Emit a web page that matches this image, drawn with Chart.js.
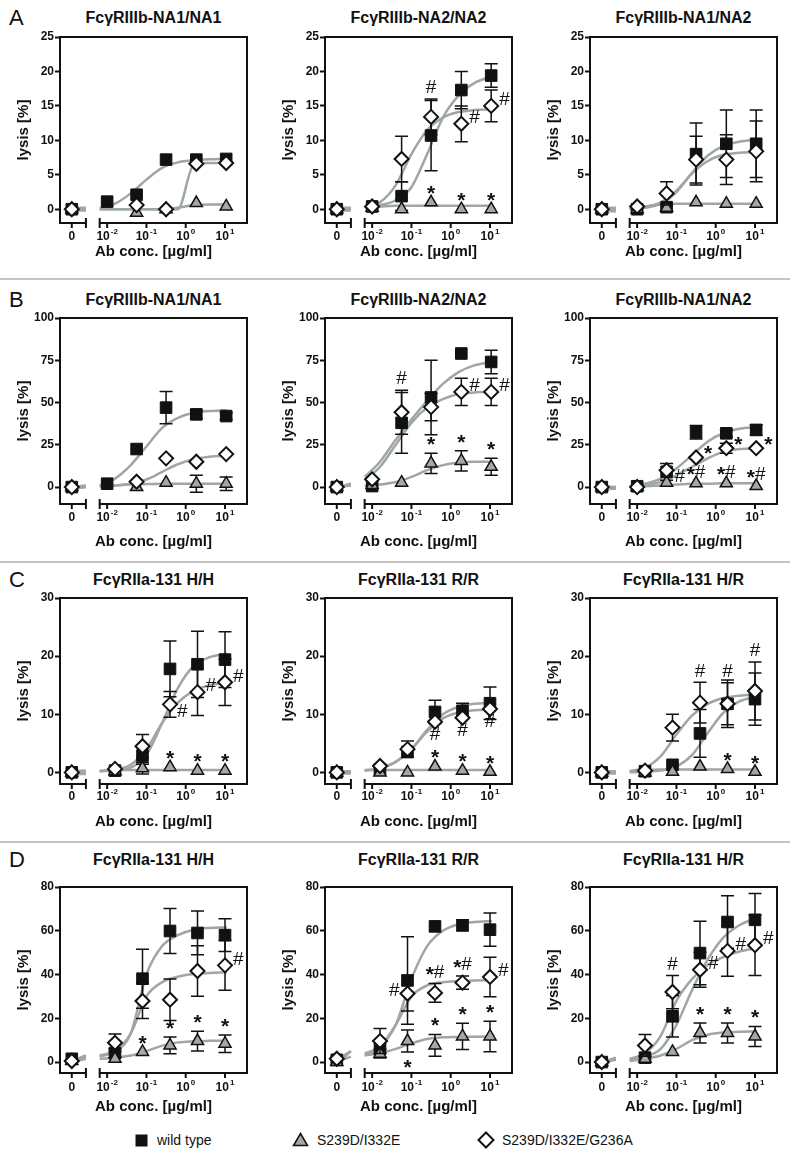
<!DOCTYPE html>
<html>
<head>
<meta charset="utf-8">
<title>lysis</title>
<script src="https://cdn.jsdelivr.net/npm/chart.js@4.4.1/dist/chart.umd.min.js"></script>
<style>
  html, body { margin: 0; padding: 0; background: #fff; }
  body { position: relative; width: 790px; height: 1160px; overflow: hidden; font-family: "Liberation Sans", Arial, sans-serif; color: #111; }
  canvas { position: absolute; }
  .ttl { position: absolute; font-weight: bold; font-size: 16px; white-space: nowrap; transform: translate(-50%, -50%); }
  .letter { position: absolute; left: 9px; font-size: 22px; line-height: 22px; transform: translateY(-50%); }
  .sep { position: absolute; left: 0; width: 790px; height: 2px; background: #c4c4c4; }
  .lg { position: absolute; top: 1131px; font-size: 14px; line-height: 18px; white-space: nowrap; }
  .sym { position: absolute; }
</style>
</head>
<body>

<svg class="sym" style="left:135px;top:1134px" width="13" height="13"><rect x="0.5" y="0.5" width="12" height="12" fill="#111"/></svg>
<span class="lg" style="left:157px">wild type</span>
<svg class="sym" style="left:292px;top:1132px" width="17" height="15"><polygon points="8.5,1.5 15.5,13.5 1.5,13.5" fill="#a4a9a6" stroke="#111" stroke-width="1.5"/></svg>
<span class="lg" style="left:317px">S239D/I332E</span>
<svg class="sym" style="left:477px;top:1131px" width="18" height="18"><polygon points="9,1.5 16.5,9 9,16.5 1.5,9" fill="#fff" stroke="#111" stroke-width="2"/></svg>
<span class="lg" style="left:502px">S239D/I332E/G236A</span>

<script>
// x axis is log10(conc); the "0" dose sits left of the axis break
const ZERO_X = -2.9;
const BREAK_X = [-2.54, -2.19];
const DOSES_AB = [-2.0, -1.25, -0.5, 0.27, 1.03];
const DOSES_CD = [-1.8, -1.1, -0.4, 0.3, 1.0];
const X_TICKS = [-2.9, -2, -1, 0, 1];
const X_TICK_BASE = ["0", "10", "10", "10", "10"];
const X_TICK_EXP = ["", "-2", "-1", "0", "1"];
// fitted curves are read at these x (2 points left of the break, 9 right of it)
const CURVE_X = [-2.9, -2.54, -2.19, -1.8, -1.4, -1.0, -0.6, -0.2, 0.2, 0.6, 1.05];

const SERIES = ["wild type", "S239D/I332E", "S239D/I332E/G236A"];
const ROW_LETTERS = ["A", "B", "C", "D"];
const TITLES = [
  ["FcγRIIIb-NA1/NA1", "FcγRIIIb-NA2/NA2", "FcγRIIIb-NA1/NA2"],
  ["FcγRIIIb-NA1/NA1", "FcγRIIIb-NA2/NA2", "FcγRIIIb-NA1/NA2"],
  ["FcγRIIa-131 H/H", "FcγRIIa-131 R/R", "FcγRIIa-131 H/R"],
  ["FcγRIIa-131 H/H", "FcγRIIa-131 R/R", "FcγRIIa-131 H/R"],
];
const Y_MIN = [-2, -10, -2, -5];
const Y_MAX = [25, 100, 30, 80];
const Y_TICKS = [[0, 5, 10, 15, 20, 25], [0, 25, 50, 75, 100], [0, 10, 20, 30], [0, 20, 40, 60, 80]];
const X_TITLE = "Ab conc. [µg/ml]";
const Y_TITLE = "lysis [%]";

// values per panel: rows = wild type, S239D/I332E, S239D/I332E/G236A; cols = 0, then 5 doses
const A1_VAL = [[0, 1.1, 2.1, 7.2, 7.2, 7.3], [0, null, -0.5, 0, 0.9, 0.4], [0, null, 0.6, 0, 6.6, 6.7]];
const A1_SD = [[0, 0, 0, 0, 0, 0], [0, 0, 0, 0, 0, 0], [0, 0, 0, 0, 0, 0]];
const A1_FIT = [
  [0, 0, 0.15, 0.8, 2.3, 4.3, 6.0, 6.8, 7.1, 7.25, 7.3],
  [0.2, 0.2, 0, 0, 0, 0, 0, 0.2, 0.6, 0.7, 0.7],
  [-0.2, -0.2, 0, 0, 0, 0, 0, 0, 6.4, 6.7, 6.8],
];
const A1_SIG = [];

const A2_VAL = [[0, 0.4, 1.9, 10.7, 17.3, 19.4], [0, 0.2, 0, 1.0, 0, 0], [0, 0.4, 7.3, 13.4, 12.4, 15.0]];
const A2_SD = [[0, 0, 2.1, 5.1, 2.7, 1.7], [0, 0, 0, 0, 0, 0], [0, 0, 3.3, 2.6, 2.6, 2.3]];
const A2_FIT = [
  [0.2, 0.2, 0.3, 0.6, 1.3, 3.2, 8, 13.3, 16.5, 18.3, 19.3],
  [0, 0, 0.3, 0.4, 0.5, 0.5, 0.5, 0.5, 0.5, 0.5, 0.5],
  [-0.2, -0.2, 0.3, 1.0, 3.5, 8, 11.5, 13.3, 14.1, 14.4, 14.5],
];
const A2_SIG = [[1, 3, "*", "above"], [1, 4, "*", "above"], [1, 5, "*", "above"], [2, 3, "#", "above"], [2, 4, "#", "right"], [2, 5, "#", "right"]];

const A3_VAL = [[0, 0, 0.3, 8.0, 9.5, 9.5], [0, 0, 0.2, 1.0, 0.8, 0.8], [0, 0.4, 2.3, 7.2, 7.2, 8.4]];
const A3_SD = [[0, 0, 0, 4.5, 4.9, 4.9], [0, 0, 0, 0, 0, 0], [0, 0, 1.7, 3.4, 3.6, 4.4]];
const A3_FIT = [
  [0.2, 0.2, 0, 0.2, 0.8, 2.5, 5.3, 7.8, 9.2, 9.8, 10.1],
  [0, 0, 0, 0.4, 0.7, 0.8, 0.8, 0.8, 0.8, 0.8, 0.8],
  [-0.3, -0.3, 0, 0.3, 1.0, 2.7, 5.2, 7.0, 7.9, 8.2, 8.3],
];
const A3_SIG = [];

const B1_VAL = [[0, 2.0, 22.5, 47, 43, 42], [0, null, 0, 2.6, 2.0, 2.0], [0, null, 3.2, 17, 15, 19.5]];
const B1_SD = [[0, 0, 0, 9.5, 2.5, 2], [0, 0, 0, 0, 5, 4], [0, 0, 0, 0, 0, 0]];
const B1_FIT = [
  [0, 1, 1, 5, 13, 24, 35, 41, 44, 45, 45.5],
  [0, 0, 0.5, 1, 1.5, 1.8, 2, 2, 2, 2, 2],
  [-1, 0, 0.5, 1, 2, 4.5, 9, 13.5, 16.5, 18, 18.5],
];
const B1_SIG = [];

const B2_VAL = [[0, 0.6, 38, 53, 79, 74], [0, 1.2, 2.6, 14, 15.5, 12], [0, 4.6, 44.3, 47.3, 56.3, 56.3]];
const B2_SD = [[0, 0, 18, 22, 0, 7], [0, 0, 0, 6, 6, 5], [0, 0, 13, 8, 8, 8]];
const B2_FIT = [
  [0, 2, 6, 15, 28, 40, 51, 61, 68, 72, 74],
  [0, 1, 0.5, 1.5, 3, 6, 10, 13, 14.5, 15, 15],
  [-1, 2, 4, 12, 25, 38, 47, 52, 55, 56, 56.5],
];
const B2_SIG = [[2, 2, "#", "above"], [1, 3, "*", "above"], [1, 4, "*", "above"], [1, 5, "*", "above"], [2, 4, "#", "right"], [2, 5, "#", "right"]];

const B3_VAL = [[0, 0.5, 9, 32.4, 31.8, 33.8], [0, 0, 2.6, 2.2, 2.2, 0.6], [0, 0, 10, 17.5, 23, 23]];
const B3_SD = [[0, 0, 5, 4, 2, 3], [0, 0, 0, 0, 0, 0], [0, 0, 0, 0, 3, 0]];
const B3_FIT = [
  [0, 0, 0.5, 2, 5, 11, 19, 27, 32, 34.5, 35.5],
  [0, 0, 0.2, 0.5, 1, 1.5, 2, 2, 2.2, 2.2, 2.2],
  [-1, -1, 0.3, 1, 3, 7, 12, 17, 21, 22.5, 23],
];
const B3_SIG = [[2, 3, "*", "right"], [2, 4, "*", "right"], [2, 5, "*", "right"], [1, 2, "#", "right"], [1, 3, "*#", "above"], [1, 4, "*#", "above"], [1, 5, "*#", "above"]];

const C1_VAL = [[0, 0.3, 2.9, 17.8, 18.6, 19.4], [0, 0.2, 0.7, 0.9, 0.3, 0.3], [0, 0.6, 4.5, 11.7, 13.8, 15.5]];
const C1_SD = [[0, 0, 1.5, 4.8, 5.7, 4.8], [0, 0, 1, 0, 0, 0], [0, 0, 2, 2.2, 4, 4]];
const C1_FIT = [
  [0.3, 0.3, 0.2, 0.3, 0.8, 3, 8.5, 14.5, 18.3, 19.8, 20.4],
  [0, 0, 0.3, 0.4, 0.4, 0.4, 0.4, 0.4, 0.4, 0.4, 0.4],
  [-0.3, -0.3, 0.2, 0.5, 1.3, 4, 8.5, 12, 14, 15, 15.3],
];
const C1_SIG = [[1, 3, "*", "above"], [1, 4, "*", "above"], [1, 5, "*", "above"], [2, 3, "#", "lowright"], [2, 4, "#", "right"], [2, 5, "#", "right"]];

const C2_VAL = [[0, 0.5, 3.5, 10.4, 10.6, 11.9], [0, 0, 0, 1.0, 0.3, 0.1], [0, 1.1, 4.0, 8.7, 9.4, 10.9]];
const C2_SD = [[0, 0, 0, 2, 1.3, 2.8], [0, 0, 0, 0, 0, 0], [0, 0, 1.4, 0, 0, 0]];
const C2_FIT = [
  [0.2, 0.2, 0.3, 0.7, 1.8, 4, 7.3, 10, 11.3, 11.8, 12],
  [0, 0, 0.4, 0.4, 0.4, 0.4, 0.4, 0.4, 0.4, 0.4, 0.4],
  [-0.2, -0.2, 0.3, 0.7, 1.8, 4, 7, 9.3, 10.3, 10.7, 10.8],
];
const C2_SIG = [[2, 3, "#", "below"], [2, 4, "#", "below"], [2, 5, "#", "below"], [1, 3, "*", "above"], [1, 4, "*", "above"], [1, 5, "*", "above"]];

const C3_VAL = [[0, 0.2, 1.3, 6.7, 11.8, 12.6], [0, 0, 0.1, 1.0, 0.6, 0.1], [0, 0.3, 7.7, 12, 11.8, 14.0]];
const C3_SD = [[0, 0, 0, 4.1, 4.1, 4.5], [0, 0, 0, 0, 0, 0], [0, 0, 2.3, 3.5, 3.6, 5]];
const C3_FIT = [
  [0.2, 0.2, 0, 0.1, 0.3, 1, 3, 6.8, 10.3, 12.2, 13],
  [0, 0, 0.2, 0.4, 0.5, 0.5, 0.5, 0.5, 0.5, 0.5, 0.5],
  [-0.2, -0.2, 0.2, 0.8, 2.8, 6.5, 9.8, 11.8, 12.8, 13.2, 13.4],
];
const C3_SIG = [[2, 3, "#", "above"], [2, 4, "#", "above"], [2, 5, "#", "above"], [1, 4, "*", "above"], [1, 5, "*", "above"]];

const D1_VAL = [[1.5, 4.1, 38.1, 59.9, 59, 58], [0.5, 1.5, 4.6, 7.6, 9.6, 8.4], [0.5, 8.8, 27.9, 28.5, 41.6, 44.2]];
const D1_SD = [[0, 2, 13.5, 10.3, 10, 7.5], [0, 0, 0, 3.8, 4.5, 4], [0, 4, 8, 9.5, 11.5, 11.4]];
const D1_FIT = [
  [0.5, 3, 3, 5, 13, 40, 53, 58, 60.5, 61.3, 61.5],
  [0, 1.5, 1.5, 2, 3, 5, 7.5, 9, 9.5, 9.7, 9.8],
  [0, 2.5, 2.5, 5, 13, 30, 36.5, 39, 40.2, 40.7, 41],
];
const D1_SIG = [[1, 2, "*", "above"], [1, 3, "*", "above"], [1, 4, "*", "above"], [1, 5, "*", "above"], [2, 5, "#", "right"]];

const D2_VAL = [[1, 6.1, 37.3, 62, 62.5, 60.5], [0, 3.8, 9.6, 7.6, 11.7, 11.7], [1.5, 9.6, 31.3, 31.6, 36.3, 38.9]];
const D2_SD = [[0, 0, 20, 0, 2.5, 7.6], [0, 2, 5, 5, 6, 7], [0, 5.7, 8, 4.3, 3, 9]];
const D2_FIT = [
  [-1, 5, 4, 7, 17, 38, 53, 60, 63, 64, 64.5],
  [0, 2.5, 3, 4, 6, 8.5, 10.5, 11.3, 11.5, 11.6, 11.7],
  [1, 5, 3, 7, 17, 30, 35, 36.5, 37, 37.3, 37.5],
];
const D2_SIG = [[2, 2, "#", "left"], [2, 3, "*#", "above"], [2, 4, "*#", "above"], [2, 5, "#", "right"], [1, 2, "*", "below"], [1, 3, "*", "above"], [1, 4, "*", "above"], [1, 5, "*", "above"]];

const D3_VAL = [[0, 2.0, 20.9, 49.8, 64, 65], [0, 1.5, 4.6, 13.3, 13.3, 11.7], [0, 7.6, 32, 42.2, 50.8, 53.4]];
const D3_SD = [[0, 0, 9.5, 14.5, 12, 12], [0, 0, 0, 4.6, 4.6, 4.6], [0, 5, 7.6, 8, 11.6, 13.8]];
const D3_FIT = [
  [0, 1.5, 1, 2.5, 6, 17, 33, 47, 57, 62.5, 66],
  [0, 1, 0.5, 1.5, 3, 6, 10, 12.5, 13.5, 13.8, 14],
  [0, 2, 1.5, 4, 12, 28, 38, 44.5, 48, 50.5, 52],
];
const D3_SIG = [[2, 2, "#", "above"], [2, 3, "#", "right"], [2, 4, "#", "right"], [2, 5, "#", "right"], [1, 3, "*", "above"], [1, 4, "*", "above"], [1, 5, "*", "above"]];

const PANELS = [
  [A1_VAL, A1_SD, A1_FIT, A1_SIG], [A2_VAL, A2_SD, A2_FIT, A2_SIG], [A3_VAL, A3_SD, A3_FIT, A3_SIG],
  [B1_VAL, B1_SD, B1_FIT, B1_SIG], [B2_VAL, B2_SD, B2_FIT, B2_SIG], [B3_VAL, B3_SD, B3_FIT, B3_SIG],
  [C1_VAL, C1_SD, C1_FIT, C1_SIG], [C2_VAL, C2_SD, C2_FIT, C2_SIG], [C3_VAL, C3_SD, C3_FIT, C3_SIG],
  [D1_VAL, D1_SD, D1_FIT, D1_SIG], [D2_VAL, D2_SD, D2_FIT, D2_SIG], [D3_VAL, D3_SD, D3_FIT, D3_SIG],
];

// ---- layout (pixels) ----
const FONT = '"Liberation Sans", Arial, sans-serif';
const COL_LEFT = [60, 325, 590];
const BOX_W = 187;
const ROW_TOP = [37, 318, 598, 887];
const BOX_H = 186;
const ROW_TITLE_Y = [18, 300, 580, 860];
const TICK_DY = [14, 14, 13, 15];
const XTITLE_DY = [29, 38, 38, 34];
const SEP_Y = [279, 562, 842];
const CURVE_COLOR = "#9ea7a3";
const STYLES = [
  { style: "rect", r: 8.2, bg: "#111", bw: 1 },
  { style: "triangle", r: 7, bg: "#a4a9a6", bw: 1.5 },
  { style: "rectRot", r: 7, bg: "#fff", bw: 2 },
];

Chart.defaults.font.family = FONT;

function drawPow(ctx, x, y, base, exp) {
  ctx.font = "bold 12px " + FONT;
  const wb = ctx.measureText(base).width;
  ctx.font = "bold 8px " + FONT;
  const we = exp ? ctx.measureText(exp).width + 1 : 0;
  const x0 = x - (wb + we) / 2;
  ctx.textAlign = "left";
  ctx.textBaseline = "middle";
  ctx.font = "bold 12px " + FONT;
  ctx.fillText(base, x0, y);
  if (exp) {
    ctx.font = "bold 8px " + FONT;
    ctx.fillText(exp, x0 + wb + 1, y - 5);
  }
}

// "*" is set bold and large, "#" in regular weight, as in the figure
function sigFont(ch) {
  return ch === "*" ? "bold 21px " + FONT : "19px " + FONT;
}

function drawSig(ctx, txt, x, y, align) {
  const chars = txt.split("");
  const widths = chars.map(ch => { ctx.font = sigFont(ch); return ctx.measureText(ch).width; });
  const total = widths.reduce((a, b) => a + b, 0);
  let cx = align === "center" ? x - total / 2 : align === "right" ? x - total : x;
  ctx.textAlign = "left";
  ctx.textBaseline = "middle";
  chars.forEach((ch, i) => {
    ctx.font = sigFont(ch);
    ctx.fillText(ch, cx, ch === "*" ? y + 3 : y);
    cx += widths[i];
  });
}

const panelPlugin = {
  id: "panel",
  // error bars go right under their own markers
  beforeDatasetDraw(chart, args) {
    const ds = chart.data.datasets[args.index];
    if (!ds.sd) return;
    const ctx = chart.ctx, xs = chart.scales.x, ys = chart.scales.y;
    ctx.save();
    ctx.strokeStyle = "#111";
    ctx.lineWidth = 1.5;
    ds.data.forEach((p, i) => {
      const e = ds.sd[i];
      if (p.y == null || !e) return;
      const px = xs.getPixelForValue(p.x);
      const y1 = ys.getPixelForValue(p.y + e), y2 = ys.getPixelForValue(p.y - e);
      ctx.beginPath();
      ctx.moveTo(px, y1); ctx.lineTo(px, y2);
      ctx.moveTo(px - 6.5, y1); ctx.lineTo(px + 6.5, y1);
      ctx.moveTo(px - 6.5, y2); ctx.lineTo(px + 6.5, y2);
      ctx.stroke();
    });
    ctx.restore();
  },
  afterDatasetsDraw(chart, args, o) {
    const ctx = chart.ctx, xs = chart.scales.x, ys = chart.scales.y;
    ctx.save();
    ctx.fillStyle = "#111";
    o.sigs.forEach(([s, i, txt, side]) => {
      const v = o.vals[s][i], e = o.sds[s][i] || 0;
      const px = xs.getPixelForValue(o.xs[i]), py = ys.getPixelForValue(v);
      if (side === "above") drawSig(ctx, txt, px, ys.getPixelForValue(v + e) - 11, "center");
      else if (side === "below") drawSig(ctx, txt, px, ys.getPixelForValue(v - e) + 13, "center");
      else if (side === "right") drawSig(ctx, txt, px + 8, py - 6, "left");
      else if (side === "lowright") drawSig(ctx, txt, px + 7, py + 7, "left");
      else if (side === "left") drawSig(ctx, txt, px - 8, py - 3, "right");
    });
    ctx.restore();
  },
  afterDraw(chart, args, o) {
    const ctx = chart.ctx, xs = chart.scales.x;
    const { left, right, top, bottom } = chart.chartArea;
    ctx.save();
    ctx.strokeStyle = "#111";
    ctx.lineWidth = 2;
    ctx.beginPath();
    ctx.moveTo(left, top); ctx.lineTo(right, top); ctx.lineTo(right, bottom + 1);
    ctx.stroke();
    // broken x axis
    const b1 = xs.getPixelForValue(BREAK_X[0]), b2 = xs.getPixelForValue(BREAK_X[1]);
    ctx.beginPath();
    ctx.moveTo(left - 1, bottom); ctx.lineTo(b1, bottom);
    ctx.moveTo(b2, bottom); ctx.lineTo(right + 1, bottom);
    ctx.moveTo(b1, bottom - 5); ctx.lineTo(b1, bottom + 5);
    ctx.moveTo(b2, bottom - 5); ctx.lineTo(b2, bottom + 5);
    X_TICKS.forEach(v => {
      const px = xs.getPixelForValue(v);
      ctx.moveTo(px, bottom); ctx.lineTo(px, bottom + 5);
    });
    ctx.stroke();
    ctx.fillStyle = "#111";
    X_TICKS.forEach((v, i) => drawPow(ctx, xs.getPixelForValue(v), bottom + o.tickDy, X_TICK_BASE[i], X_TICK_EXP[i]));
    ctx.font = "bold 15px " + FONT;
    ctx.textAlign = "center";
    ctx.textBaseline = "middle";
    ctx.fillText(X_TITLE, (left + right) / 2, bottom + o.titleDy);
    ctx.translate(left - 36, (top + bottom) / 2);
    ctx.rotate(-Math.PI / 2);
    ctx.fillText(Y_TITLE, 0, 0);
    ctx.restore();
  },
};

function buildPanel(row, col, vals, sds, fits, sigs) {
  const PADL = 60, PADT = 12, PADR = 18, PADB = 50;
  const W = PADL + BOX_W + PADR, H = PADT + BOX_H + PADB;
  const canvas = document.createElement("canvas");
  canvas.width = W;
  canvas.height = H;
  canvas.style.left = (COL_LEFT[col] - PADL) + "px";
  canvas.style.top = (ROW_TOP[row] - PADT) + "px";
  canvas.style.width = W + "px";
  canvas.style.height = H + "px";
  document.body.appendChild(canvas);

  const xs = [ZERO_X].concat(row < 2 ? DOSES_AB : DOSES_CD);
  const datasets = [];
  fits.forEach(f => {
    const pts = [];
    CURVE_X.forEach((x, i) => {
      pts.push({ x, y: f[i] });
      if (i === 1) pts.push({ x: (BREAK_X[0] + BREAK_X[1]) / 2, y: null });
    });
    datasets.push({
      data: pts, showLine: true, borderColor: CURVE_COLOR, borderWidth: 2.5,
      pointRadius: 0, cubicInterpolationMode: "monotone", spanGaps: false, order: 10,
    });
  });
  vals.forEach((v, s) => {
    const st = STYLES[s];
    datasets.push({
      label: SERIES[s],
      data: v.map((y, i) => ({ x: xs[i], y })),
      sd: sds[s],
      pointStyle: st.style, pointRadius: st.r, pointBackgroundColor: st.bg,
      pointBorderColor: "#111", pointBorderWidth: st.bw,
      showLine: false, clip: false, order: 3 - s,
    });
  });

  new Chart(canvas, {
    type: "scatter",
    data: { datasets },
    options: {
      responsive: false,
      animation: false,
      devicePixelRatio: 1,
      events: [],
      layout: { padding: { top: PADT, right: PADR, bottom: PADB, left: 0 } },
      plugins: {
        legend: { display: false },
        tooltip: { enabled: false },
        panel: { vals, sds, sigs, xs, tickDy: TICK_DY[row], titleDy: XTITLE_DY[row] },
      },
      scales: {
        x: { type: "linear", display: false, min: -3.2, max: 1.56 },
        y: {
          type: "linear",
          min: Y_MIN[row],
          max: Y_MAX[row],
          afterFit: (s) => { s.width = PADL; },
          afterBuildTicks: (s) => { s.ticks = Y_TICKS[row].map(v => ({ value: v })); },
          ticks: { color: "#111", padding: 1, font: { size: 12, weight: "bold" } },
          grid: { drawOnChartArea: false, drawTicks: true, tickLength: 5, tickColor: "#111", tickWidth: 2 },
          border: { display: true, color: "#111", width: 2 },
        },
      },
    },
    plugins: [panelPlugin],
  });
}

// headers, letters, separators
ROW_LETTERS.forEach((L, r) => {
  const d = document.createElement("div");
  d.className = "letter";
  d.style.top = ROW_TITLE_Y[r] + "px";
  d.textContent = L;
  document.body.appendChild(d);
  TITLES[r].forEach((t, c) => {
    const e = document.createElement("div");
    e.className = "ttl";
    e.style.left = (COL_LEFT[c] + BOX_W / 2) + "px";
    e.style.top = ROW_TITLE_Y[r] + "px";
    e.textContent = t;
    document.body.appendChild(e);
  });
});
SEP_Y.forEach(y => {
  const s = document.createElement("div");
  s.className = "sep";
  s.style.top = (y - 1) + "px";
  document.body.appendChild(s);
});

PANELS.forEach((p, k) => buildPanel(Math.floor(k / 3), k % 3, p[0], p[1], p[2], p[3]));
</script>
</body>
</html>
